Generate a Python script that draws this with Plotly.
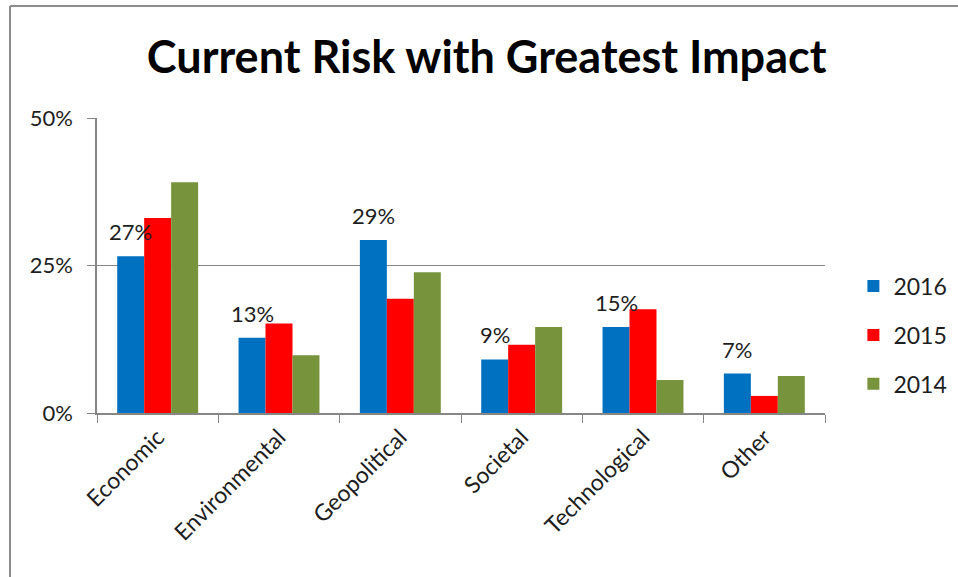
import plotly.graph_objects as go

categories = ["Economic", "Environmental", "Geopolitical", "Societal", "Technological", "Other"]
years = ["2016", "2015", "2014"]
v2016 = [26.6, 12.8, 29.4, 9.1, 14.6, 6.7]
v2015 = [33.1, 15.2, 19.4, 11.6, 17.6, 2.9]
v2014 = [39.2, 9.8, 23.9, 14.6, 5.6, 6.3]
colors = ["#0070C0", "#FF0000", "#77933C"]
y_tickvals = [0, 25, 50]
y_ticktext = ["0%", "25%", "50%"]
title_text = "Current Risk with Greatest Impact"

FONT = "Lato"
TXT = "#1e1e1e"
fig = go.Figure()
for name, vals, col in zip(years, [v2016, v2015, v2014], colors):
    fig.add_trace(go.Bar(
        x=categories, y=vals, name=name, legendgroup=name,
        marker=dict(color=col, line=dict(width=0)),
    ))

# data labels for the 2016 series (placed above the 2016 bars)
for i, v in enumerate(v2016):
    fig.add_annotation(x=i - 0.2222, y=v, xref="x", yref="y", text=f"{v:.0f}%",
                       showarrow=False, yanchor="bottom", yshift=9,
                       font=dict(family=FONT, size=22, color=TXT))

fig.update_layout(
    width=958, height=577,
    paper_bgcolor="white", plot_bgcolor="white",
    margin=dict(l=97, r=133, t=118, b=164, autoexpand=False),
    barmode="group", bargap=0.333, bargroupgap=0,
    title=dict(text="<b>" + title_text + "</b>", x=0.508, xanchor="center", y=0.9, yanchor="middle",
               font=dict(family=FONT, size=45, color="black")),
    legend=dict(x=1.039, y=0.264, xanchor="left", yanchor="middle",
                font=dict(family=FONT, size=23, color=TXT),
                itemwidth=30, tracegroupgap=16, bgcolor="rgba(0,0,0,0)"),
    font=dict(family=FONT, color=TXT),
    showlegend=True,
)
fig.update_xaxes(
    showline=True, linecolor="#868686", linewidth=1.5,
    ticks="outside", tickson="boundaries", ticklen=8, tickcolor="#868686",
    tickangle=-45, tickfont=dict(family=FONT, size=23, color=TXT),
    showgrid=False, automargin=False,
)
fig.update_yaxes(
    range=[0, 50.1], tickmode="array", tickvals=y_tickvals, ticktext=y_ticktext,
    showline=True, linecolor="#868686", linewidth=1.5,
    ticks="outside", ticklen=8, tickcolor="#868686", ticklabelstandoff=10,
    showgrid=True, gridcolor="#868686", gridwidth=1.2,
    tickfont=dict(family=FONT, size=22, color=TXT),
    zeroline=False, automargin=False,
)
# outer frame lines (left and top)
fig.add_shape(type="line", xref="paper", yref="paper", x0=-0.1195, x1=-0.1195, y0=-0.6, y1=1.3797,
              line=dict(color="#8c8c8c", width=2))
fig.add_shape(type="line", xref="paper", yref="paper", x0=-0.1195, x1=1.2, y0=1.3797, y1=1.3797,
              line=dict(color="#8c8c8c", width=2))

fig.write_html("out.html", config={"displayModeBar": False},
               post_script="document.body.style.margin='0';")
